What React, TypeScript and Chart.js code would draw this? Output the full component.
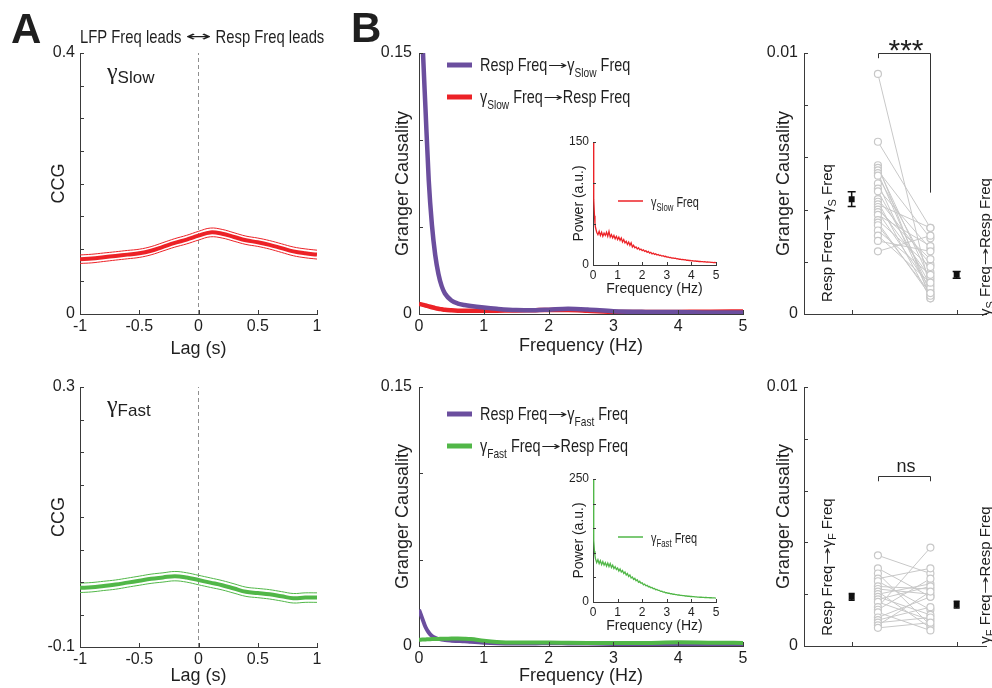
import { useEffect, useRef } from 'react';
import { Chart, registerables } from 'chart.js';

Chart.register(...registerables);

const W = 992;
const H = 688;
const SANS = '"Liberation Sans", Arial, Helvetica, sans-serif';
const SERIF = '"Liberation Serif", "Times New Roman", serif';
const ARROWF = '"DejaVu Sans", "Liberation Sans", sans-serif';
const NARROW = 0.78;

const RED = '#EC2227';
const PURPLE = '#6B4E9E';
const GREEN = '#51B748';
const GRAY = '#C8C8C8';
const AXIS = '#3a3a3a';
const INK = '#1f1f1f';
const DASH = '#8f8f8f';

// ---------------- Panel A: cross-correlograms ----------------
const lagSec = [-1, -0.9, -0.8, -0.7, -0.6, -0.5, -0.4, -0.3, -0.2, -0.1, 0, 0.1, 0.2, 0.3, 0.4, 0.5, 0.6, 0.7, 0.8, 0.9, 1];
const ccgSlowMean = [0.084, 0.085, 0.087, 0.089, 0.091, 0.093, 0.097, 0.103, 0.109, 0.114, 0.120, 0.125, 0.123, 0.118, 0.113, 0.110, 0.106, 0.101, 0.096, 0.093, 0.091];
const ccgSlowSem = [0.0065, 0.0066, 0.0065, 0.0064, 0.0064, 0.0063, 0.0063, 0.0064, 0.0065, 0.0066, 0.0067, 0.0067, 0.0066, 0.0065, 0.0064, 0.0064, 0.0065, 0.0066, 0.0067, 0.0068, 0.0068];
const ccgFastMean = [-0.009, -0.008, -0.006, -0.004, -0.001, 0.002, 0.005, 0.007, 0.009, 0.007, 0.003, -0.001, -0.005, -0.010, -0.015, -0.017, -0.019, -0.022, -0.025, -0.024, -0.024];
const ccgFastSem = [0.0072, 0.0072, 0.0071, 0.0071, 0.0070, 0.0070, 0.0071, 0.0071, 0.0072, 0.0072, 0.0073, 0.0073, 0.0072, 0.0072, 0.0071, 0.0071, 0.0072, 0.0072, 0.0073, 0.0073, 0.0073];
const lagTicks = [-1, -0.5, 0, 0.5, 1];
const lagTickLabels = ['-1', '-0.5', '0', '0.5', '1'];
const ccgSlowTicks = [0, 0.05, 0.1, 0.15, 0.2, 0.25, 0.3, 0.35, 0.4];
const ccgSlowTickLabels = ['0', '', '', '', '', '', '', '', '0.4'];
const ccgFastTicks = [-0.1, -0.05, 0, 0.05, 0.1, 0.15, 0.2, 0.25, 0.3];
const ccgFastTickLabels = ['-0.1', '', '', '', '', '', '', '', '0.3'];

// ---------------- Panel B: Granger spectra ----------------
const gcFreq = [0, 0.05, 0.1, 0.15, 0.2, 0.25, 0.3, 0.35, 0.4, 0.5, 0.6, 0.7, 0.8, 1.0, 1.2, 1.5, 1.8, 2.0, 2.3, 2.6, 3.0, 3.5, 4.0, 4.5, 5.0];
const gcRespToSlow = [0.21, 0.16, 0.118, 0.077, 0.051, 0.034, 0.023, 0.016, 0.0118, 0.0078, 0.0060, 0.0052, 0.0046, 0.0037, 0.0030, 0.0023, 0.0022, 0.0025, 0.0030, 0.0026, 0.0016, 0.0012, 0.0011, 0.0008, 0.0008];
const gcSlowToResp = [0.0058, 0.0054, 0.0049, 0.0044, 0.0039, 0.0034, 0.0030, 0.0027, 0.0024, 0.0021, 0.0019, 0.0018, 0.0018, 0.0018, 0.0019, 0.0020, 0.0022, 0.0023, 0.0023, 0.0019, 0.0012, 0.0011, 0.0012, 0.0013, 0.0015];
const gcRespToFast = [0.021, 0.016, 0.011, 0.0078, 0.0058, 0.0047, 0.0041, 0.0037, 0.0034, 0.0031, 0.0029, 0.0027, 0.0024, 0.0019, 0.0016, 0.0015, 0.0015, 0.0016, 0.0015, 0.0014, 0.0012, 0.0010, 0.0008, 0.0008, 0.0008];
const gcFastToResp = [0.0036, 0.0037, 0.0038, 0.0039, 0.0040, 0.0041, 0.0041, 0.0042, 0.0042, 0.0043, 0.0043, 0.0042, 0.0040, 0.0030, 0.0023, 0.0020, 0.0020, 0.0020, 0.0019, 0.0018, 0.0017, 0.0018, 0.0021, 0.0019, 0.0018];
const freqTicks = [0, 1, 2, 3, 4, 5];
const freqTickLabels = ['0', '1', '2', '3', '4', '5'];
const gcTicks = [0, 0.05, 0.1, 0.15];
const gcTickLabels = ['0', '', '', '0.15'];

// ---------------- Insets: power spectra ----------------
const psdFreq = [0, 0.02, 0.04, 0.06, 0.08, 0.1, 0.15, 0.2, 0.25, 0.3, 0.35, 0.4, 0.45, 0.5, 0.55, 0.6, 0.65, 0.7, 0.75, 0.8, 0.85, 0.9, 0.95, 1, 1.05, 1.1, 1.15, 1.2, 1.25, 1.3, 1.35, 1.4, 1.45, 1.5, 1.55, 1.6, 1.65, 1.7, 1.75, 1.8, 1.85, 1.9, 1.95, 2, 2.05, 2.1, 2.15, 2.2, 2.25, 2.3, 2.35, 2.4, 2.45, 2.5, 2.55, 2.6, 2.65, 2.7, 2.75, 2.8, 2.85, 2.9, 2.95, 3, 3.05, 3.1, 3.15, 3.2, 3.25, 3.3, 3.35, 3.4, 3.45, 3.5, 3.55, 3.6, 3.65, 3.7, 3.75, 3.8, 3.85, 3.9, 3.95, 4, 4.05, 4.1, 4.15, 4.2, 4.25, 4.3, 4.35, 4.4, 4.45, 4.5, 4.55, 4.6, 4.65, 4.7, 4.75, 4.8, 4.85, 4.9, 4.95, 5];
const psdSlow = [150, 118, 80, 60, 51,
  46, 40, 37, 41, 36, 40, 35, 39, 36, 40, 35, 41, 34, 37, 33, 36, 32, 35, 31,
  34, 30, 33, 28, 31, 27, 29, 25, 28, 24, 27, 22, 24, 21, 22, 19.5, 21, 18.5, 19.5, 17.5,
  18.5, 16.5, 17.5, 15.5, 16.5, 14.5, 15.5, 13.5, 14.5, 13, 13.8, 12.2, 12.8, 11.5, 12, 10.8, 11.3, 10.2, 10.6, 9.6,
  9.8, 9, 9.3, 8.5, 8.7, 8, 8.2, 7.5, 7.7, 7, 7.2, 6.6, 6.8, 6.2, 6.4, 5.8, 6, 5.5, 5.6, 5.1,
  5.3, 4.8, 5, 4.6, 4.7, 4.3, 4.5, 4.1, 4.2, 3.8, 4, 3.6, 3.7, 3.4, 3.5, 3.2, 3.3, 3, 3.1, 2.8];
const psdFast = [250, 185, 125, 103, 94,
  88, 80, 86, 78, 84, 76, 82, 75, 80, 73, 79, 72, 78, 70, 75, 68, 72, 66, 69,
  63, 67, 61, 64, 58, 61, 55, 58, 52, 55, 49, 51, 46, 48, 43, 45, 40, 42, 38, 39,
  35, 36.5, 33, 34, 31, 31.5, 29, 29.5, 27, 27.5, 25, 25.5, 23.5, 23.5, 21.5, 22, 20, 20.5, 18.8, 19,
  17.8, 18, 16.8, 17, 15.8, 16, 15, 15, 14.2, 14.2, 13.5, 13.5, 12.8, 12.9, 12.2, 12.3, 11.7, 11.8, 11.2, 11.3,
  10.8, 10.9, 10.4, 10.5, 10, 10.1, 9.7, 9.8, 9.4, 9.5, 9.1, 9.2, 8.9, 8.9, 8.6, 8.7, 8.4, 8.5, 8.2, 8];
const psdSlowTicks = [0, 50, 100, 150];
const psdSlowTickLabels = ['0', '', '', '150'];
const psdFastTicks = [0, 50, 100, 150, 200, 250];
const psdFastTickLabels = ['0', '', '', '', '', '250'];

// ---------------- Panel C: per-animal Granger values ----------------
const slowRespToLfp = [0.0092, 0.0066, 0.0057, 0.0056, 0.0055, 0.0054, 0.0053, 0.0050, 0.0048, 0.0047, 0.0044, 0.0043, 0.0042, 0.0041, 0.0040, 0.0039, 0.0038, 0.0036, 0.0035, 0.0034, 0.0032, 0.0030, 0.0028, 0.0024];
const slowLfpToResp = [0.0009, 0.0033, 0.0006, 0.0013, 0.0029, 0.0008, 0.0016, 0.0007, 0.0025, 0.0011, 0.0019, 0.0006, 0.0033, 0.0014, 0.0021, 0.0010, 0.0026, 0.0018, 0.0007, 0.0008, 0.0015, 0.0012, 0.0024, 0.0030];
const slowMeans = [0.0044, 0.0015];
const slowSems = [0.00028, 0.00013];
const fastRespToLfp = [0.0035, 0.0030, 0.0028, 0.0026, 0.0025, 0.0023, 0.0022, 0.0021, 0.0020, 0.0019, 0.0018, 0.0017, 0.0015, 0.0014, 0.0013, 0.0011, 0.0010, 0.0009, 0.0008, 0.0007];
const fastLfpToResp = [0.0028, 0.0019, 0.0008, 0.0030, 0.0014, 0.0022, 0.0020, 0.0007, 0.0024, 0.0012, 0.0023, 0.0010, 0.0038, 0.0026, 0.0006, 0.0019, 0.0015, 0.0011, 0.0021, 0.0009];
const fastMeans = [0.0019, 0.0016];
const fastSems = [0.00013, 0.00013];
const gcBarTicks = [0, 0.002, 0.004, 0.006, 0.008, 0.01];
const gcBarTickLabels = ['0', '', '', '', '', '0.01'];
const groupTicks = [1, 2];
const groupTickLabels = ['', ''];

// category positions on the C x-axis
const MEAN_X = [1, 2];
const PAIR_X = [1.25, 1.75];

// ---------------- helpers ----------------
type Run = { t: string; size: number; fam?: string; sx?: number; w?: number; dy?: number; weight?: string };
type Item =
  | { kind: 'text'; x: number; y: number; rot?: number; align?: 'left' | 'center' | 'right'; runs: Run[]; color?: string }
  | { kind: 'line'; x1: number; y1: number; x2: number; y2: number; color: string; width: number };

interface AxisSpec {
  min: number; max: number; ticks: number[]; labels: string[]; size: number; pad: number;
  title?: string; tsize?: number; tpos?: number;
}
interface PanelSpec {
  L: number; R: number; T: number; B: number; yw: number; xh: number;
  x: AxisSpec; y: AxisSpec; tickLen: number;
  datasets: any[];
  err?: { xs: number[]; means: number[]; sems: number[]; cap: number };
  bracket?: { x1: number; x2: number; top: number; yl: number; yr: number };
  items: Item[];
}

const pts = (xs: number[], ys: number[]) => xs.map((x, i) => ({ x, y: ys[i] }));
const ptsOff = (xs: number[], ys: number[], d: number[], s: number) => xs.map((x, i) => ({ x, y: ys[i] + s * d[i] }));
const pairs = (l: number[], r: number[]) => {
  const out: any[] = [];
  l.forEach((v, i) => { out.push({ x: PAIR_X[0], y: v }, { x: PAIR_X[1], y: r[i] }, { x: 1.5, y: null }); });
  return out;
};

function fontOf(r: Run) {
  return `${r.weight || 'normal'} ${r.size}px ${r.fam || SANS}`;
}

function drawRich(ctx: CanvasRenderingContext2D, it: any) {
  ctx.save();
  ctx.translate(it.x, it.y);
  if (it.rot) ctx.rotate(it.rot);
  ctx.fillStyle = it.color || INK;
  ctx.textBaseline = 'alphabetic';
  ctx.textAlign = 'left';
  const scales: number[] = [];
  const widths = it.runs.map((r: Run) => {
    ctx.font = fontOf(r);
    const m = ctx.measureText(r.t).width;
    const k = r.w ? r.w / m : (r.sx ?? 1);
    scales.push(k);
    return m * k;
  });
  const total = widths.reduce((a: number, b: number) => a + b, 0);
  let cx = it.align === 'center' ? -total / 2 : it.align === 'right' ? -total : 0;
  it.runs.forEach((r: Run, i: number) => {
    ctx.font = fontOf(r);
    ctx.save();
    ctx.translate(cx, r.dy || 0);
    ctx.scale(scales[i], 1);
    ctx.fillText(r.t, 0, 0);
    ctx.restore();
    cx += widths[i];
  });
  ctx.restore();
}

function decor(p: PanelSpec) {
  return {
    id: 'decor',
    afterDatasetsDraw(chart: any) {
      const { ctx, scales } = chart;
      const xs = scales.x, ys = scales.y;
      if (p.err) {
        const e = p.err;
        ctx.save();
        ctx.strokeStyle = '#111';
        ctx.lineWidth = 1.5;
        ctx.beginPath();
        e.xs.forEach((xv, i) => {
          const px = xs.getPixelForValue(xv);
          const y1 = ys.getPixelForValue(e.means[i] - e.sems[i]);
          const y2 = ys.getPixelForValue(e.means[i] + e.sems[i]);
          ctx.moveTo(px, y1); ctx.lineTo(px, y2);
          ctx.moveTo(px - e.cap, y1); ctx.lineTo(px + e.cap, y1);
          ctx.moveTo(px - e.cap, y2); ctx.lineTo(px + e.cap, y2);
        });
        ctx.stroke();
        ctx.restore();
      }
    },
    afterDraw(chart: any) {
      const { ctx, chartArea: ca, scales } = chart;
      const xs = scales.x, ys = scales.y;
      ctx.save();
      ctx.strokeStyle = AXIS;
      ctx.lineWidth = 1;
      ctx.beginPath();
      for (const v of p.x.ticks) {
        const px = Math.round(xs.getPixelForValue(v)) + 0.5;
        ctx.moveTo(px, ca.bottom);
        ctx.lineTo(px, ca.bottom - p.tickLen);
      }
      for (const v of p.y.ticks) {
        const py = Math.round(ys.getPixelForValue(v)) + 0.5;
        ctx.moveTo(ca.left, py);
        ctx.lineTo(ca.left + p.tickLen, py);
      }
      ctx.stroke();
      if (p.bracket) {
        const b = p.bracket;
        const x1 = Math.round(xs.getPixelForValue(b.x1)) + 0.5;
        const x2 = Math.round(xs.getPixelForValue(b.x2)) + 0.5;
        const yt = Math.round(ys.getPixelForValue(b.top)) + 0.5;
        ctx.strokeStyle = '#333';
        ctx.lineWidth = 1;
        ctx.beginPath();
        ctx.moveTo(x1, ys.getPixelForValue(b.yl));
        ctx.lineTo(x1, yt);
        ctx.lineTo(x2, yt);
        ctx.lineTo(x2, ys.getPixelForValue(b.yr));
        ctx.stroke();
      }
      for (const it of p.items) {
        if (it.kind === 'line') {
          ctx.save();
          ctx.strokeStyle = it.color;
          ctx.lineWidth = it.width;
          ctx.lineCap = 'butt';
          ctx.beginPath();
          ctx.moveTo(it.x1, it.y1);
          ctx.lineTo(it.x2, it.y2);
          ctx.stroke();
          ctx.restore();
        } else {
          drawRich(ctx, it);
        }
      }
      ctx.restore();
    },
  };
}

function axisOptions(a: AxisSpec, horizontal: boolean, edge: number, fixed: number) {
  const tsize = a.tsize ?? 18;
  const lh = tsize * 1.2;
  const tp = a.tpos === undefined ? 0 : horizontal ? edge - a.tpos - lh / 2 : a.tpos - edge - lh / 2;
  return {
    type: 'linear',
    position: horizontal ? 'bottom' : 'left',
    min: a.min,
    max: a.max,
    afterBuildTicks: (s: any) => { s.ticks = a.ticks.map((v) => ({ value: v })); },
    afterFit: (s: any) => { if (horizontal) s.height = fixed; else s.width = fixed; },
    grid: { display: false, drawTicks: false },
    border: { display: true, color: AXIS, width: 1 },
    ticks: {
      autoSkip: false, maxRotation: 0, minRotation: 0, padding: a.pad, color: INK,
      font: { family: SANS, size: a.size },
      callback: (_v: any, i: number) => a.labels[i] ?? '',
    },
    title: {
      display: !!a.title, text: a.title ?? '', color: INK,
      font: { family: SANS, size: tsize },
      padding: horizontal ? { top: 0, bottom: tp } : { top: tp, bottom: 0 },
    },
  };
}

function buildConfig(p: PanelSpec): any {
  return {
    type: 'line',
    data: { datasets: p.datasets },
    options: {
      responsive: false,
      animation: false,
      events: [],
      layout: { padding: { left: p.L - p.yw, right: W - p.R, top: p.T, bottom: H - p.B - p.xh } },
      plugins: { legend: { display: false }, tooltip: { enabled: false }, title: { display: false } },
      scales: {
        x: axisOptions(p.x, true, p.B + p.xh, p.xh),
        y: axisOptions(p.y, false, p.L - p.yw, p.yw),
      },
    },
    plugins: [decor(p)],
  };
}

const smooth = { pointRadius: 0, tension: 0.4, fill: false };
const mono = { pointRadius: 0, cubicInterpolationMode: 'monotone', fill: false };

function ccgDatasets(mean: number[], sem: number[], color: string, yMin: number, yMax: number) {
  return [
    { data: pts(lagSec, mean), borderColor: color, borderWidth: 4, ...smooth },
    { data: ptsOff(lagSec, mean, sem, 1), borderColor: color, borderWidth: 1, ...smooth },
    { data: ptsOff(lagSec, mean, sem, -1), borderColor: color, borderWidth: 1, ...smooth },
    { data: [{ x: 0, y: yMin }, { x: 0, y: yMax }], borderColor: DASH, borderWidth: 1, borderDash: [4, 3], pointRadius: 0 },
  ];
}

function gammaLabel(x: number, y: number, sub: string): Item {
  return { kind: 'text', x, y, runs: [{ t: 'γ', size: 24, fam: SERIF }, { t: sub, size: 17, dy: 4 }] };
}

const LS = 18.5;
const arrowRun = (w: number, size: number, dy: number): Run => ({ t: '→', size, fam: ARROWF, w, dy });

function legendRows(y1: number, y2: number, c1: string, c2: string, sub: string): Item[] {
  return [
    { kind: 'line', x1: 447, y1, x2: 472, y2: y1, color: c1, width: 5 },
    {
      kind: 'text', x: 480, y: y1 + 6, runs: [
        { t: 'Resp Freq', size: LS, sx: NARROW }, arrowRun(20, 12, -2),
        { t: 'γ', size: LS, sx: NARROW }, { t: sub, size: 13, sx: NARROW, dy: 6 }, { t: ' Freq', size: LS, sx: NARROW }],
    },
    { kind: 'line', x1: 447, y1: y2, x2: 472, y2, color: c2, width: 5 },
    {
      kind: 'text', x: 480, y: y2 + 6, runs: [
        { t: 'γ', size: LS, sx: NARROW }, { t: sub, size: 13, sx: NARROW, dy: 6 }, { t: ' Freq', size: LS, sx: NARROW },
        arrowRun(20, 12, -2), { t: 'Resp Freq', size: LS, sx: NARROW }],
    },
  ];
}

function insetLegend(y: number, color: string, sub: string): Item[] {
  return [
    { kind: 'line', x1: 618, y1: y, x2: 643, y2: y, color, width: 1.5 },
    { kind: 'text', x: 651, y: y + 6, runs: [{ t: 'γ', size: 14, sx: NARROW }, { t: sub, size: 10, sx: NARROW, dy: 4 }, { t: ' Freq', size: 14, sx: NARROW }] },
  ];
}

function sideLabels(cyL: number, cyR: number, sub: string): Item[] {
  return [
    {
      kind: 'text', x: 832, y: cyL, rot: -Math.PI / 2, align: 'center', runs: [
        { t: 'Resp Freq', size: 15 }, arrowRun(18, 11, -1.5), { t: 'γ', size: 15 }, { t: sub, size: 11, dy: 4 }, { t: ' Freq', size: 15 }],
    },
    {
      kind: 'text', x: 990, y: cyR, rot: -Math.PI / 2, align: 'center', runs: [
        { t: 'γ', size: 15 }, { t: sub, size: 11, dy: 4 }, { t: ' Freq', size: 15 }, arrowRun(18, 11, -1.5), { t: 'Resp Freq', size: 15 }],
    },
  ];
}

function pairDatasets(l: number[], r: number[], means: number[]) {
  return [
    { data: pts(MEAN_X, means), showLine: false, pointStyle: 'rect', pointRadius: 4.2, pointBackgroundColor: '#111', pointBorderColor: '#111', pointBorderWidth: 0 },
    { data: pairs(l, r), borderColor: GRAY, borderWidth: 1, pointRadius: 3.5, pointBackgroundColor: '#fff', pointBorderColor: GRAY, pointBorderWidth: 1.2, spanGaps: false, tension: 0 },
  ];
}

const C_MIN = 0.546;
const C_MAX = 2.287;

const PANELS: PanelSpec[] = [
  // A top
  {
    L: 80, R: 317, T: 53, B: 314, yw: 40, xh: 50, tickLen: 4,
    x: { min: -1, max: 1, ticks: lagTicks, labels: lagTickLabels, size: 16, pad: 3, title: 'Lag (s)', tsize: 18, tpos: 349 },
    y: { min: 0, max: 0.4, ticks: ccgSlowTicks, labels: ccgSlowTickLabels, size: 16, pad: 5, title: 'CCG', tsize: 18, tpos: 59 },
    datasets: ccgDatasets(ccgSlowMean, ccgSlowSem, RED, 0, 0.4),
    items: [
      { kind: 'text', x: 11, y: 43, runs: [{ t: 'A', size: 42, weight: 'bold' }] },
      {
        kind: 'text', x: 80, y: 43, runs: [
          { t: 'LFP Freq leads ', size: 19, sx: NARROW }, { t: '↔', size: 14, fam: ARROWF, w: 26, dy: -2 }, { t: ' Resp Freq leads', size: 19, sx: NARROW }],
      },
      gammaLabel(107, 79, 'Slow'),
    ],
  },
  // A bottom
  {
    L: 80, R: 317, T: 387, B: 647, yw: 40, xh: 40, tickLen: 4,
    x: { min: -1, max: 1, ticks: lagTicks, labels: lagTickLabels, size: 16, pad: 3, title: 'Lag (s)', tsize: 18, tpos: 676 },
    y: { min: -0.1, max: 0.3, ticks: ccgFastTicks, labels: ccgFastTickLabels, size: 16, pad: 5, title: 'CCG', tsize: 18, tpos: 59 },
    datasets: ccgDatasets(ccgFastMean, ccgFastSem, GREEN, -0.1, 0.3),
    items: [gammaLabel(107, 412, 'Fast')],
  },
  // B top
  {
    L: 419, R: 743, T: 53, B: 314, yw: 50, xh: 50, tickLen: 4,
    x: { min: 0, max: 5, ticks: freqTicks, labels: freqTickLabels, size: 16, pad: 3, title: 'Frequency (Hz)', tsize: 18, tpos: 346 },
    y: { min: 0, max: 0.15, ticks: gcTicks, labels: gcTickLabels, size: 16, pad: 7, title: 'Granger Causality', tsize: 18, tpos: 403 },
    datasets: [
      { data: pts(gcFreq, gcRespToSlow), borderColor: PURPLE, borderWidth: 4.5, ...mono },
      { data: pts(gcFreq, gcSlowToResp), borderColor: RED, borderWidth: 4.5, ...mono },
    ],
    items: [
      { kind: 'text', x: 351, y: 42, runs: [{ t: 'B', size: 42, weight: 'bold' }] },
      ...legendRows(65, 97, PURPLE, RED, 'Slow'),
    ],
  },
  // B bottom
  {
    L: 419, R: 743, T: 387, B: 646, yw: 50, xh: 41, tickLen: 4,
    x: { min: 0, max: 5, ticks: freqTicks, labels: freqTickLabels, size: 16, pad: 3, title: 'Frequency (Hz)', tsize: 18, tpos: 676 },
    y: { min: 0, max: 0.15, ticks: gcTicks, labels: gcTickLabels, size: 16, pad: 7, title: 'Granger Causality', tsize: 18, tpos: 403 },
    datasets: [
      { data: pts(gcFreq, gcFastToResp), borderColor: GREEN, borderWidth: 4, ...mono },
      { data: pts(gcFreq, gcRespToFast), borderColor: PURPLE, borderWidth: 4, ...mono },
    ],
    items: legendRows(414, 446, PURPLE, GREEN, 'Fast'),
  },
  // inset top
  {
    L: 593, R: 716, T: 142, B: 265, yw: 30, xh: 34, tickLen: 3,
    x: { min: 0, max: 5, ticks: freqTicks, labels: freqTickLabels, size: 12, pad: 3, title: 'Frequency (Hz)', tsize: 14, tpos: 289 },
    y: { min: 0, max: 150, ticks: psdSlowTicks, labels: psdSlowTickLabels, size: 12, pad: 4, title: 'Power (a.u.)', tsize: 14, tpos: 579 },
    datasets: [{ data: pts(psdFreq, psdSlow), borderColor: RED, borderWidth: 1.3, pointRadius: 0, tension: 0, fill: false }],
    items: insetLegend(201, RED, 'Slow'),
  },
  // inset bottom
  {
    L: 593, R: 716, T: 479, B: 602, yw: 30, xh: 34, tickLen: 3,
    x: { min: 0, max: 5, ticks: freqTicks, labels: freqTickLabels, size: 12, pad: 3, title: 'Frequency (Hz)', tsize: 14, tpos: 626 },
    y: { min: 0, max: 250, ticks: psdFastTicks, labels: psdFastTickLabels, size: 12, pad: 4, title: 'Power (a.u.)', tsize: 14, tpos: 579 },
    datasets: [{ data: pts(psdFreq, psdFast), borderColor: GREEN, borderWidth: 1.3, pointRadius: 0, tension: 0, fill: false }],
    items: insetLegend(537, GREEN, 'Fast'),
  },
  // C top
  {
    L: 804, R: 992, T: 53, B: 314, yw: 50, xh: 30, tickLen: 4,
    x: { min: C_MIN, max: C_MAX, ticks: groupTicks, labels: groupTickLabels, size: 16, pad: 2 },
    y: { min: 0, max: 0.01, ticks: gcBarTicks, labels: gcBarTickLabels, size: 16, pad: 6, title: 'Granger Causality', tsize: 18, tpos: 784 },
    datasets: pairDatasets(slowRespToLfp, slowLfpToResp, slowMeans),
    err: { xs: MEAN_X, means: slowMeans, sems: slowSems, cap: 4 },
    bracket: { x1: PAIR_X[0], x2: PAIR_X[1], top: 0.01, yl: 0.0098, yr: 0.00465 },
    items: [
      { kind: 'text', x: 906, y: 60, align: 'center', runs: [{ t: '***', size: 30 }] },
      ...sideLabels(233, 247, 'S'),
    ],
  },
  // C bottom
  {
    L: 804, R: 992, T: 387, B: 646, yw: 50, xh: 30, tickLen: 4,
    x: { min: C_MIN, max: C_MAX, ticks: groupTicks, labels: groupTickLabels, size: 16, pad: 2 },
    y: { min: 0, max: 0.01, ticks: gcBarTicks, labels: gcBarTickLabels, size: 16, pad: 6, title: 'Granger Causality', tsize: 18, tpos: 784 },
    datasets: pairDatasets(fastRespToLfp, fastLfpToResp, fastMeans),
    err: { xs: MEAN_X, means: fastMeans, sems: fastSems, cap: 3 },
    bracket: { x1: PAIR_X[0], x2: PAIR_X[1], top: 0.00657, yl: 0.00636, yr: 0.00636 },
    items: [
      { kind: 'text', x: 906, y: 472, align: 'center', runs: [{ t: 'ns', size: 18 }] },
      ...sideLabels(567, 575, 'F'),
    ],
  },
];

export default function App() {
  const refs = useRef<(HTMLCanvasElement | null)[]>([]);
  useEffect(() => {
    const charts = PANELS.map((p, i) => new Chart(refs.current[i] as HTMLCanvasElement, buildConfig(p)));
    return () => charts.forEach((c) => c.destroy());
  }, []);
  return (
    <div style={{ position: 'fixed', left: 0, top: 0, width: W, height: H, overflow: 'hidden', background: '#fff' }}>
      {PANELS.map((_p, i) => (
        <canvas
          key={i}
          ref={(el) => { refs.current[i] = el; }}
          width={W}
          height={H}
          style={{ position: 'absolute', left: 0, top: 0, width: W, height: H }}
        />
      ))}
    </div>
  );
}
